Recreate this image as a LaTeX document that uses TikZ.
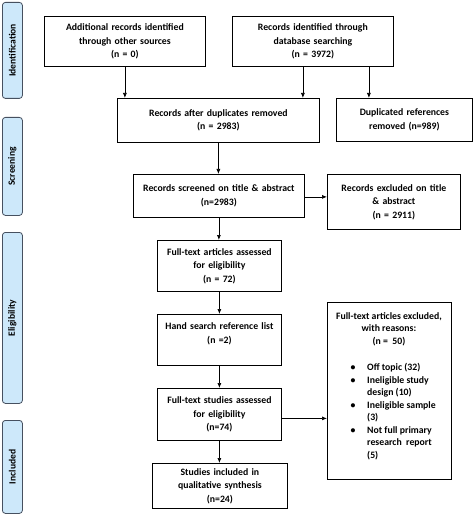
\documentclass[tikz,border=0pt]{standalone}
\usepackage{fontspec}
\setmainfont{Carlito}
\usetikzlibrary{arrows.meta}
\definecolor{phasefill}{RGB}{205,232,250}
\definecolor{phaseborder}{RGB}{70,80,95}
\begin{document}
\begin{tikzpicture}[x=1bp,y=-1bp,
  box/.style={draw=black, line width=0.8bp, fill=white, align=center, inner sep=0pt, anchor=north west,
              font=\bfseries\fontsize{9.8}{13.6}\selectfont},
  txt/.style={inner sep=0pt, font=\bfseries\fontsize{9.8}{12.6}\selectfont},
  phase/.style={draw=phaseborder, fill=phasefill, rounded corners=3bp, line width=0.8bp, anchor=north west, inner sep=0pt},
  phasetext/.style={rotate=90, font=\bfseries\fontsize{9.6}{11}\selectfont},
  arr/.style={-{Latex[length=5bp,width=4bp]}, line width=0.7bp}]
\useasboundingbox (0,0) rectangle (473,517);

% phase labels
\node[phase, minimum width=20bp, minimum height=96bp] (p1) at (2,2) {};
\node[phasetext] (p1t) at (p1.center) {Identification};
\node[phase, minimum width=20bp, minimum height=98bp] (p2) at (2,117) {};
\node[phasetext] (p2t) at (p2.center) {Screening};
\node[phase, minimum width=20bp, minimum height=171bp] (p3) at (2,232) {};
\node[phasetext] (p3t) at (p3.center) {Eligibility};
\node[phase, minimum width=20bp, minimum height=93bp] (p4) at (2,420) {};
\node[phasetext] (p4t) at (p4.center) {Included};

% boxes
\node[box, minimum width=161bp, minimum height=50bp, text width=157bp] (b1) at (44,16)
  {Additional records identified\\through other sources\\(n = 0)};
\node[box, minimum width=161bp, minimum height=50bp, text width=157bp] (b2) at (232,16)
  {Records identified through\\database searching\\(n = 3972)};
\node[box, minimum width=202bp, minimum height=44bp, text width=198bp] (b3) at (117,98)
  {Records after duplicates removed\\(n = 2983)};
\node[box, minimum width=136bp, minimum height=43bp, text width=132bp] (b4) at (336,98)
  {Duplicated references\\removed (n=989)\\[2bp]};
\node[box, minimum width=171bp, minimum height=43bp, text width=169bp] (b5) at (133,174)
  {Records screened on title \& abstract\\(n=2983)};
\node[box, minimum width=133bp, minimum height=55bp, text width=129bp] (b6) at (327,174)
  {Records excluded on title\\\& abstract\hspace*{6bp}\\(n = 2911)};
\node[box, minimum width=124bp, minimum height=51bp, text width=122bp] (b7) at (157,240)
  {Full-text articles assessed\\for eligibility\\(n = 72)};
\node[box, minimum width=124bp, minimum height=51bp, text width=122bp] (b8) at (157,314)
  {Hand search reference list\\(n =2)\\\mbox{}};
\node[box, minimum width=124bp, minimum height=52bp, text width=122bp] (b9) at (157,388)
  {Full-text studies assessed\\for eligibility\\(n=74)};
\node[box, minimum width=135bp, minimum height=45bp, text width=131bp] (b10) at (152,463)
  {Studies included in\\qualitative synthesis\\(n=24)};
\node[box, minimum width=124bp, minimum height=177bp] (b11) at (327,302) {};

% contents of the exclusion box
\node[txt, align=center, anchor=base] (h1) at (389,319) {Full-text articles excluded,};
\node[txt, anchor=base] (h2) at (389,331.5) {with reasons:};
\node[txt, anchor=base] (h3) at (389,344) {(n =\ \ 50)};
\node[txt, anchor=base] (u1) at (353,370.5) {\textbullet};
\node[txt, anchor=base west] (i1) at (367,370.5) {Off topic (32)};
\node[txt, anchor=base] (u2) at (353,383) {\textbullet};
\node[txt, anchor=base west] (i2) at (367,383) {Ineligible study};
\node[txt, anchor=base west] (i2b) at (367,395.5) {design (10)};
\node[txt, anchor=base] (u3) at (353,408) {\textbullet};
\node[txt, anchor=base west] (i3) at (367,408) {Ineligible sample};
\node[txt, anchor=base west] (i3b) at (367,420.5) {(3)};
\node[txt, anchor=base] (u4) at (353,433) {\textbullet};
\node[txt, anchor=base west] (i4) at (367,433) {Not full primary};
\node[txt, anchor=base west] (i4b) at (367,445.5) {research\ \ report};
\node[txt, anchor=base west] (i4c) at (367,458) {(5)};

% connectors
\draw[arr] (b1.south) -- (b1.south |- b3.north);
\draw[arr] ([xshift=-10bp]b2.south) -- ([xshift=-10bp]b2.south |- b3.north);
\draw[arr] ([xshift=56bp]b2.south) -- ([xshift=56bp]b2.south |- b4.north);
\draw[arr] (b3.south) -- (b3.south |- b5.north);
\draw[arr] ([yshift=-1bp]b5.east) -- ([yshift=-1bp]b5.east -| b6.west);
\draw[arr] (b5.south) -- (b5.south |- b7.north);
\draw[arr] (b7.south) -- (b8.north);
\draw[arr] (b8.south) -- (b9.north);
\draw[arr] ([yshift=-4bp]b9.east) -- ([yshift=-4bp]b9.east -| b11.west);
\draw[arr] (b9.south) -- (b9.south |- b10.north);
\end{tikzpicture}
\end{document}
